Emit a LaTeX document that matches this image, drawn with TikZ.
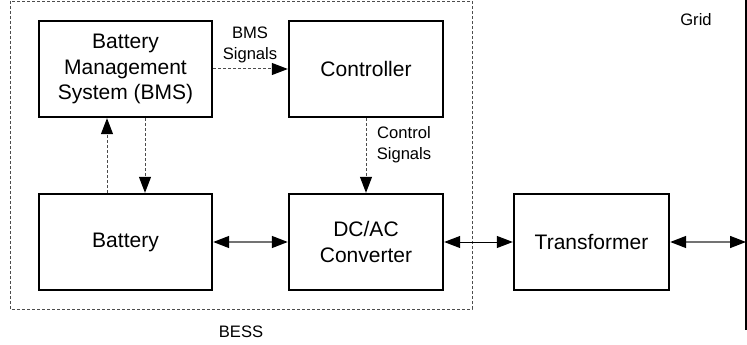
\documentclass[tikz,border=0pt]{standalone}
\usepackage{fontspec}
\setmainfont{Liberation Sans}
\usetikzlibrary{arrows.meta,calc}
\begin{document}
\begin{tikzpicture}[x=1pt,y=-1pt,
  block/.style={draw=black,line width=2.4pt,fill=white,align=center,inner sep=0pt,
    font=\fontsize{21}{25.5}\selectfont},
  lbl/.style={align=center,inner sep=0pt,font=\fontsize{16.6}{21}\selectfont},
  tip/.tip={Triangle[length=16pt 0,width=12pt 0,color=black]},
  sig/.style={draw=black!70,line width=1pt,dash pattern=on 3pt off 2pt,
    -{tip}},
  pow/.style={draw=black!55,line width=1.4pt,{tip}-{tip}},
  bessbox/.style={draw=black!70,line width=0.9pt,dash pattern=on 3pt off 2pt}
]
\useasboundingbox (0,0) rectangle (747,345);
\draw[bessbox] (10,1) rectangle (472,309);
\node[block,minimum width=173pt,minimum height=96pt] (bms) at (125.5,69) {Battery\\Management\\System (BMS)};
\node[block,minimum width=154pt,minimum height=96pt] (ctrl) at (366,69) {Controller};
\node[block,minimum width=173pt,minimum height=96pt] (bat) at (125.5,242) {Battery};
\node[block,minimum width=154pt,minimum height=96pt] (dcac) at (366,242) {DC/AC\\Converter};
\node[block,minimum width=155pt,minimum height=96pt] (tr) at (591.5,242) {Transformer};
\coordinate (gtop) at (746,0);
\coordinate (gbot) at (746,330);
\draw[line width=2pt] (gtop) -- (gbot);
\node[lbl] (bmssig) at (250,45) {BMS\\Signals};
\node[lbl] (ctlsig) at (404,145) {Control\\Signals};
\node[lbl] (grid) at (696,20) {Grid};
\node[lbl] (bess) at (241,332) {BESS};
\draw[sig] (bms.east) -- (ctrl.west);
\draw[sig] ([xshift=-18.5pt]bat.north) -- ([xshift=-18.5pt]bms.south);
\draw[sig] ([xshift=19.5pt]bms.south) -- ([xshift=19.5pt]bat.north);
\draw[sig] (ctrl.south) -- (dcac.north);
\draw[pow] (bat.east) -- (dcac.west);
\draw[pow,draw=black,line width=1pt] (dcac.east) -- (tr.west);
\draw[pow] (tr.east) -- (tr.east -| gtop);
\end{tikzpicture}
\end{document}
